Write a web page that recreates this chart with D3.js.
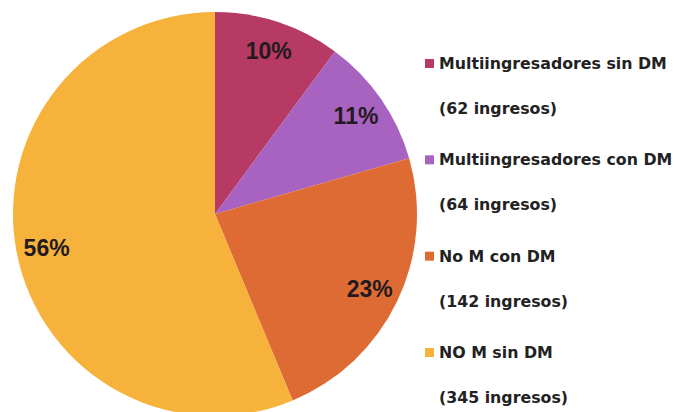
<!DOCTYPE html>
<html>
<head>
<meta charset="utf-8">
<script src="https://cdn.jsdelivr.net/npm/d3@7"></script>
<style>
  body { margin: 0; background: #fff; }
  svg { display: block; }
</style>
</head>
<body>
<div id="chart"></div>
<script>
var categories = ['Multiingresadores sin DM', 'Multiingresadores con DM', 'No M con DM', 'NO M sin DM']
var ingresos = [62, 64, 142, 345]
var pctLabels = ['10%', '11%', '23%', '56%']
var subLabels = ['(62 ingresos)', '(64 ingresos)', '(142 ingresos)', '(345 ingresos)']
var colors = ['#b63a63', '#a763bf', '#df6b34', '#f6b23a']

var width = 676, height = 412
var svg = d3.select('#chart').append('svg').attr('width', width).attr('height', height)

var radius = 202
var g = svg.append('g').attr('transform', 'translate(215,214)')

var data = categories.map((c, i) => ({name: c, value: ingresos[i], label: pctLabels[i]}))
var pie = d3.pie().value(d => d.value).sort(null)
var arc = d3.arc().innerRadius(0).outerRadius(radius)
var labelArc = d3.arc().innerRadius(radius * 0.85).outerRadius(radius * 0.85)
var color = d3.scaleOrdinal(categories, colors)

var arcs = g.selectAll('.arc')
    .data(pie(data))
    .enter()
    .append('g')
    .attr('class', 'arc')

arcs.append('path')
    .attr('d', arc)
    .attr('fill', d => color(d.data.name))

arcs.append('text')
    .attr('transform', d => 'translate(' + labelArc.centroid(d) + ')')
    .attr('text-anchor', 'middle')
    .attr('dy', '0.35em')
    .attr('font-family', 'Liberation Sans, Arial, sans-serif')
    .attr('font-weight', 'bold')
    .attr('font-size', 23)
    .attr('fill', '#231a1f')
    .text(d => d.data.label)

// legend
var legend = svg.append('g').attr('transform', 'translate(425,0)')
var rowY = d3.scalePoint().domain(categories).range([69, 358])

var rows = legend.selectAll('.row')
    .data(categories)
    .enter()
    .append('g')
    .attr('class', 'row')
    .attr('transform', d => 'translate(0,' + rowY(d) + ')')

rows.append('rect')
    .attr('x', 0).attr('y', -10)
    .attr('width', 9).attr('height', 9)
    .attr('fill', d => color(d))

rows.append('text')
    .attr('x', 14)
    .attr('font-family', 'DejaVu Sans, sans-serif')
    .attr('font-weight', 'bold')
    .attr('font-size', 15.8)
    .attr('fill', '#222')
    .text(d => d)

rows.append('text')
    .attr('x', 14).attr('y', 45)
    .attr('font-family', 'DejaVu Sans, sans-serif')
    .attr('font-weight', 'bold')
    .attr('font-size', 15.8)
    .attr('fill', '#222')
    .text((d, i) => subLabels[i])
</script>
</body>
</html>
